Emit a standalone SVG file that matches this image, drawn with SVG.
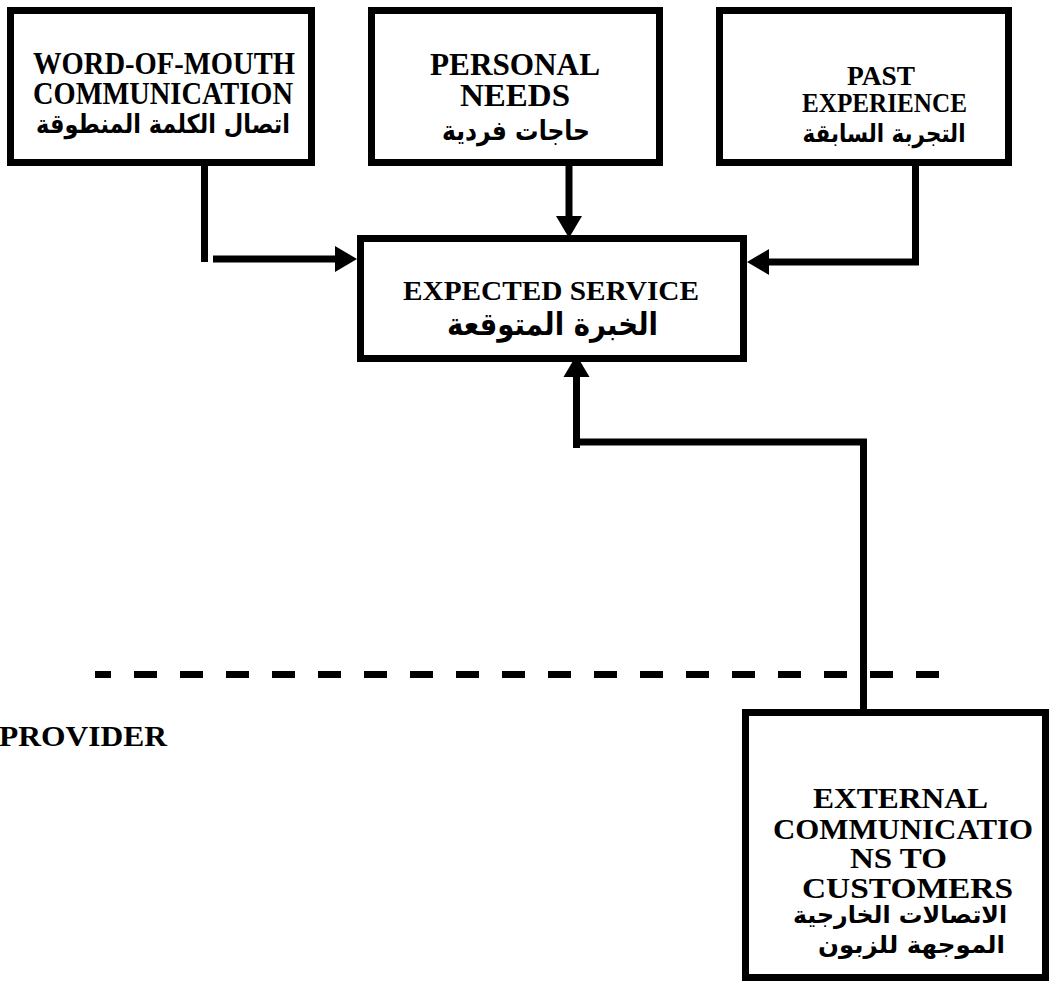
<svg xmlns="http://www.w3.org/2000/svg" width="1050" height="984" viewBox="0 0 1050 984">
  <style>
    .box { fill: #ffffff; stroke: #000000; stroke-width: 7; }
    .en { font-family: "Liberation Serif", "Times New Roman", serif; font-weight: bold; fill: #000000; text-anchor: middle; }
    .ar { font-family: "DejaVu Sans", "Noto Sans", sans-serif; font-weight: bold; fill: #000000; text-anchor: middle; }
    .wire { fill: none; stroke: #000000; stroke-width: 7; stroke-linejoin: miter; stroke-linecap: butt; }
    .divider { fill: none; stroke: #000000; stroke-width: 7; stroke-dasharray: 23 23; stroke-dashoffset: 7; }
  </style>
  <defs>
    <marker id="head" markerUnits="userSpaceOnUse" markerWidth="22" markerHeight="26" refX="0" refY="13" orient="auto" overflow="visible">
      <path d="M0,0 L22,13 L0,26 Z" fill="#000000"/>
    </marker>
  </defs>

  <rect width="1050" height="984" fill="#ffffff"/>

  <!-- boundary between customer and provider sides -->
  <line class="divider" x1="95" y1="674.5" x2="940" y2="674.5"/>
  <text class="en" x="-1" y="746" font-size="29.5" textLength="168" lengthAdjust="spacingAndGlyphs" style="text-anchor:start">PROVIDER</text>

  <g id="connectors">
    <!-- word of mouth -> expected service -->
    <line class="wire" x1="204.5" y1="166" x2="204.5" y2="262"/>
    <line class="wire" x1="213" y1="259" x2="335" y2="259" marker-end="url(#head)"/>
    <!-- personal needs -> expected service -->
    <line class="wire" x1="569" y1="166" x2="569" y2="216" marker-end="url(#head)"/>
    <!-- past experience -> expected service -->
    <path class="wire" d="M915.5,166 V262 H769" marker-end="url(#head)"/>
    <!-- external communications -> expected service -->
    <path class="wire" d="M863.5,709 V442 H580"/>
    <line class="wire" x1="576.5" y1="448" x2="576.5" y2="377" marker-end="url(#head)"/>
  </g>

  <g id="word-of-mouth">
    <rect class="box" x="10.5" y="10.5" width="301" height="152"/>
    <text class="en" x="164" y="74" font-size="31" textLength="262" lengthAdjust="spacingAndGlyphs">WORD-OF-MOUTH</text>
    <text class="en" x="163" y="104" font-size="31" textLength="260" lengthAdjust="spacingAndGlyphs">COMMUNICATION</text>
    <text class="ar" x="163" y="133" font-size="26" textLength="254" lengthAdjust="spacingAndGlyphs">اتصال الكلمة المنطوقة</text>
  </g>

  <g id="personal-needs">
    <rect class="box" x="371.5" y="10.5" width="288" height="152"/>
    <text class="en" x="515" y="75" font-size="32.5" textLength="170" lengthAdjust="spacingAndGlyphs">PERSONAL</text>
    <text class="en" x="515" y="106" font-size="32.5" textLength="110" lengthAdjust="spacingAndGlyphs">NEEDS</text>
    <text class="ar" x="516" y="140" font-size="27" textLength="148" lengthAdjust="spacingAndGlyphs">حاجات فردية</text>
  </g>

  <g id="past-experience">
    <rect class="box" x="719.5" y="10.5" width="289" height="152"/>
    <text class="en" x="881" y="85" font-size="27.5" textLength="68" lengthAdjust="spacingAndGlyphs">PAST</text>
    <text class="en" x="884.5" y="112" font-size="27.5" textLength="165" lengthAdjust="spacingAndGlyphs">EXPERIENCE</text>
    <text class="ar" x="884" y="142" font-size="25" textLength="163" lengthAdjust="spacingAndGlyphs">التجربة السابقة</text>
  </g>

  <g id="expected-service">
    <rect class="box" x="360.5" y="238.5" width="383" height="120"/>
    <text class="en" x="551" y="300" font-size="26.5" textLength="296" lengthAdjust="spacingAndGlyphs">EXPECTED SERVICE</text>
    <text class="ar" x="552.5" y="335" font-size="31" textLength="211" lengthAdjust="spacingAndGlyphs">الخبرة المتوقعة</text>
  </g>

  <g id="external-communications">
    <rect class="box" x="745.5" y="712.5" width="300" height="265"/>
    <text class="en" x="900.5" y="808" font-size="30" textLength="175" lengthAdjust="spacingAndGlyphs">EXTERNAL</text>
    <text class="en" x="903" y="839" font-size="30" textLength="260" lengthAdjust="spacingAndGlyphs">COMMUNICATIO</text>
    <text class="en" x="898.5" y="868" font-size="30" textLength="97" lengthAdjust="spacingAndGlyphs">NS TO</text>
    <text class="en" x="907.5" y="898" font-size="30" textLength="211" lengthAdjust="spacingAndGlyphs">CUSTOMERS</text>
    <text class="ar" x="900" y="923" font-size="24" textLength="214" lengthAdjust="spacingAndGlyphs">الاتصالات الخارجية</text>
    <text class="ar" x="911.5" y="953" font-size="24" textLength="187" lengthAdjust="spacingAndGlyphs">الموجهة للزبون</text>
  </g>
</svg>
